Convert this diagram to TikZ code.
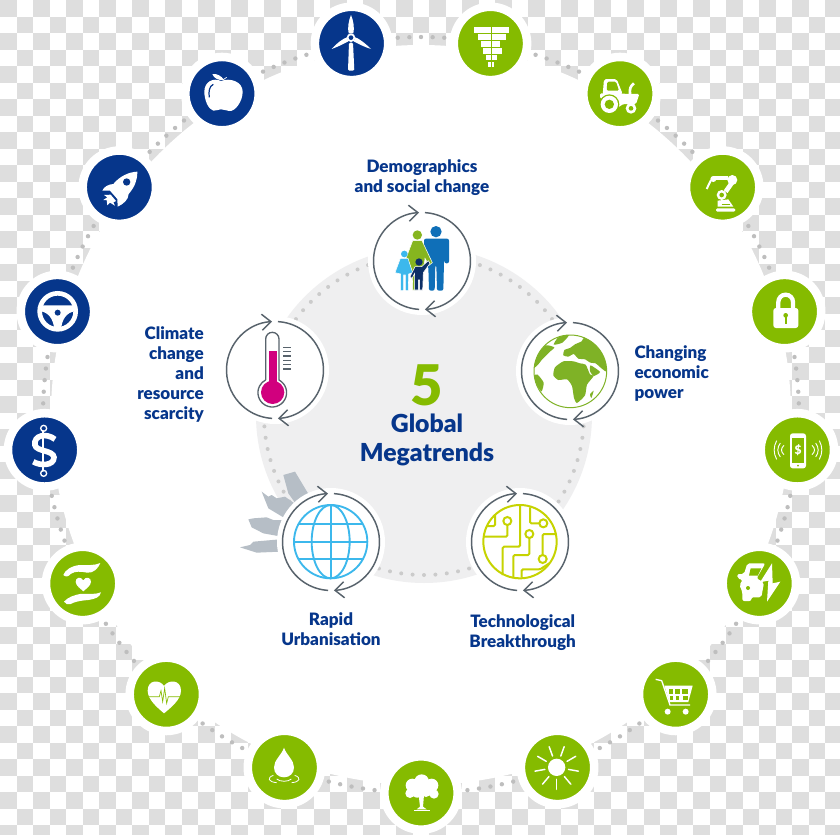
\documentclass[tikz,border=0pt]{standalone}
\usepackage{fontspec}
\setmainfont{Lato}[BoldFont={Lato Black}]
\usepackage{tikz}
\usetikzlibrary{positioning,arrows.meta}
\definecolor{navyblue}{HTML}{06368B}
\definecolor{leafgreen}{HTML}{85BB00}
\definecolor{checkgrey}{HTML}{DEDEDE}
\definecolor{dotgrey}{HTML}{BEBEBE}
\definecolor{coregrey}{HTML}{EFEFF0}
\definecolor{ringgrey}{HTML}{58636C}
\definecolor{skygrey}{HTML}{B6BEC6}
\definecolor{manblue}{HTML}{0F6FB8}
\definecolor{womangreen}{HTML}{86B51F}
\definecolor{girlblue}{HTML}{3CB8EC}
\definecolor{boynavy}{HTML}{0C2F66}
\definecolor{thermopink}{HTML}{D1007E}
\definecolor{earthgreen}{HTML}{7FB226}
\definecolor{circuitlime}{HTML}{C6D300}
\begin{document}
\begin{tikzpicture}[x=0.75pt, y=-0.75pt,
icon/.style ={circle, draw=white, line width=6.4pt, minimum size=55pt, inner sep=0pt},
trend/.style ={circle, fill=white, minimum size=81pt, inner sep=0pt},
trendtext/.style ={text=navyblue, font=\bfseries\fontsize{12.8}{15}\selectfont, inner sep=0pt},
ringarc/.style ={draw=ringgrey, line width=1.1pt, -{Straight Barb[length=6.8pt,width=12pt]}},
nwcrop/.style ={x=0.25pt, y=-0.25pt},
necrop/.style ={shift={(420,0)}, x=0.25pt, y=-0.25pt},
topcrop/.style ={shift={(220,140)}, x=0.25pt, y=-0.25pt},
lowcrop/.style ={shift={(220,440)}, x=0.25pt, y=-0.25pt},
swcrop/.style ={shift={(0,400)}, x=0.25pt, y=-0.25pt},
botcrop/.style ={shift={(220,680)}, x=0.25pt, y=-0.25pt},
secrop/.style ={shift={(620,400)}, x=0.25pt, y=-0.25pt},
lockcrop/.style ={shift={(745,272)}, x=0.25pt, y=-0.25pt},
wheelcrop/.style ={shift={(17,272)}, x=0.25pt, y=-0.25pt},
earthcrop/.style ={shift={(525,326)}, x=0.25pt, y=-0.25pt},
trendring/.pic ={
  \draw[ringarc] (93.5:48.5) arc [start angle=93.5, end angle=266.5, radius=48.5];
  \draw[ringarc] (273.5:48.5) arc [start angle=273.5, end angle=446.5, radius=48.5];
}]
\useasboundingbox (0,0) rectangle (840,835);
\fill[white] (0,0) rectangle (840,835);
\foreach \i in {0,...,50}
  \foreach \j in {0,...,50} {
    \pgfmathparse{int(mod(\i+\j,2))}
    \ifnum\pgfmathresult=0
      \fill[checkgrey] ({\i*16.5},{\j*16.5}) rectangle ({\i*16.5+16.5},{\j*16.5+16.5});
    \fi
  }
\clip (0,0) rectangle (840,835);

\coordinate (hub) at (421,415);
\node (backdisc) [circle, fill=white, minimum size=555pt, inner sep=0pt] at (hub) {};
\foreach \k in {0,...,203}
  \fill[dotgrey] ([shift={(\k*1.76471+90:378)}]hub) circle [radius=2.2];

\foreach \name/\k/\col in {tree/0/leafgreen, sun/1/leafgreen, cart/2/leafgreen, evcar/3/leafgreen,
    phone/4/leafgreen, lock/5/leafgreen, robot/6/leafgreen, tractor/7/leafgreen, funnel/8/leafgreen,
    wind/9/navyblue, apple/10/navyblue, rocket/11/navyblue, steering/12/navyblue, dollar/13/navyblue,
    hands/14/leafgreen, pulse/15/leafgreen, drop/16/leafgreen}
  \node (\name) [icon, fill=\col] at ([shift={(90-21.17647*\k:378)}]hub) {};

\node (core) [circle, fill=coregrey, minimum size=252pt, inner sep=0pt] at (424,415) {};
\foreach \k in {0,...,87}
  \fill[dotgrey!80] ([shift={(\k*4.0909:160)}]core) circle [radius=2];

\begin{scope}[lowcrop]
\fill[skygrey] (190,105) -- (225,95) -- (270,170) -- (230,195) -- (205,160) -- cycle;
\fill[skygrey] (125,155) -- (145,170) -- (155,165) -- (170,175) -- (195,170) -- (230,195) -- (195,235) -- (145,205) -- cycle;
\fill[skygrey] (85,238) -- (100,235) -- (140,232) -- (160,240) -- (195,240) -- (185,290) -- (130,280) -- (95,262) -- cycle;
\fill[skygrey] (60,322) -- (90,315) -- (100,305) -- (180,298) -- (180,335) -- (110,338) -- cycle;
\end{scope}

\node (demog) [trend] at (422,261) {};
\node (thermo) [trend] at (275,370) {};
\node (earth) [trend] at (570,371) {};
\node (city) [trend] at (331,542) {};
\node (tech) [trend] at (520,542) {};
\foreach \name in {demog, thermo, earth, city, tech}
  \pic at (\name) {trendring};

\node (demogtext) [trendtext, align=center, above = 8pt of demog] {Demographics\\and social change};
\node (thermotext) [trendtext, align=right, left = 12.5pt of thermo, yshift=-3.5pt] {Climate\\change\\and\\resource\\scarcity};
\node (earthtext) [trendtext, align=left, right = 7.5pt of earth, yshift=-2pt] {Changing\\economic\\power};
\node (citytext) [trendtext, align=center, below = 12pt of city] {Rapid\\Urbanisation};
\node (techtext) [trendtext, align=center, below = 13.5pt of tech, xshift=2pt] {Technological\\Breakthrough};

\node (five) [text=leafgreen, font=\bfseries\fontsize{42}{42}\selectfont, inner sep=0pt] at (427,385) {5};
\node (title) [text=navyblue, align=center, font=\bfseries\fontsize{18.6}{21.75}\selectfont, inner sep=0pt] at (427,440) {Global\\Megatrends};

\begin{scope}[topcrop]
\fill[manblue] (648,275) circle [radius=17];
\fill[manblue, rounded corners=1.5pt] (612,296) -- (687,296) -- (687,370) -- (673,370) -- (673,320) -- (670,452) -- (651,452) -- (649,375) -- (646,375) -- (644,452) -- (627,452) -- (625,380) -- (612,340) -- cycle;
\fill[womangreen] (592,285) circle [radius=14];
\fill[womangreen, draw=white, line width=0.4pt] (578,302) -- (606,302) -- (637,368) -- (627,376) -- (615,355) -- (610,400) -- (590,400) -- (590,450) -- (578,450) -- (577,400) -- (560,385) -- (558,355) -- cycle;
\fill[girlblue] (553,342) circle [radius=10];
\fill[girlblue, draw=white, line width=0.4pt] (541,355) -- (564,355) -- (578,398) -- (566,402) -- (565,452) -- (556,452) -- (556,405) -- (551,405) -- (551,452) -- (542,452) -- (542,402) -- (525,398) -- cycle;
\fill[boynavy] (597,366) circle [radius=11];
\fill[boynavy, draw=white, line width=0.4pt] (585,380) -- (605,380) -- (625,362) -- (630,370) -- (610,398) -- (608,450) -- (599,450) -- (599,420) -- (595,420) -- (595,450) -- (584,450) -- (584,400) -- (576,415) -- (570,410) -- cycle;

\draw[ringgrey, line width=1pt] (137,720) -- (137,597) arc [start angle=180, end angle=360, radius=20] -- (177,720) arc [start angle=-62, end angle=242, radius=43];
\fill[thermopink] (146,632) rectangle (170,730);
\fill[thermopink] (158,757) circle [radius=35];
\foreach \t in {622,635,648,661,674,687}
  \draw[ringgrey, line width=0.85pt] (190,\t) -- (212,\t);
\end{scope}

\begin{scope}[earthcrop, earthgreen]
\begin{scope}
\clip (136,136) circle [radius=109];
\fill plot [smooth cycle, tension=0.35] coordinates {(115,88) (118,72) (135,66) (150,55) (170,46) (178,34) (205,50) (240,90) (250,135) (240,135) (226,124) (212,112) (196,110) (180,100) (160,98) (146,84) (130,92)};
\fill plot [smooth cycle, tension=0.35] coordinates {(85,148) (90,124) (115,106) (145,106) (165,112) (182,116) (195,145) (206,150) (186,176) (180,208) (156,231) (147,216) (141,180) (126,160) (100,162)};
\fill plot [smooth cycle, tension=0.35] coordinates {(197,118) (225,138) (206,150) (195,135)};
\fill plot [smooth cycle, tension=0.35] coordinates {(206,194) (199,216) (195,205)};
\fill plot [smooth cycle, tension=0.35] coordinates {(27,125) (38,85) (62,58) (88,64) (76,76) (62,90) (50,102) (40,115)};
\fill plot [smooth cycle, tension=0.35] coordinates {(26,150) (38,146) (56,170) (50,196) (38,182)};
\fill plot [smooth cycle, tension=0.35] coordinates {(86,56) (100,34) (132,27) (112,50)};
\end{scope}
\draw[line width=0.75pt] (136,136) circle [radius=109];
\end{scope}

\begin{scope}[lowcrop]
\begin{scope}
\clip (332,305) circle [radius=110];
\foreach \t in {253,305,358}
  \draw[girlblue, line width=1.4pt] (222,\t) -- (442,\t);
\end{scope}
\draw[girlblue, line width=1.4pt] (332,305) circle [radius=110];
\draw[girlblue, line width=1.4pt] (332,195) -- (332,415);
\draw[girlblue, line width=1.4pt] (332,305) ellipse [x radius=57, y radius=110];
\begin{scope}[circuitlime, line width=1.5pt, rounded corners=1pt]
\draw (900,305) circle [radius=110];
\draw (900,195) -- (900,320) -- (848,320) -- (848,405);
\draw (862,255) -- (862,290) -- (792,290);
\draw (800,258) -- (825,258) -- (825,225);
\draw (958,250) -- (930,250) -- (930,202);
\draw (928,294) -- (928,345) -- (880,345) -- (880,412);
\draw (968,345) -- (968,282) -- (1008,282);
\draw (905,412) -- (905,388) -- (960,388) -- (988,370);
\draw (862,243) circle [radius=12];
\draw (970,250) circle [radius=12];
\draw (928,282) circle [radius=12];
\draw (968,357) circle [radius=12];
\end{scope}
\end{scope}

\begin{scope}[nwcrop, white]
\fill (1053,45) .. controls (1060,60) and (1064,85) .. (1060,100) -- (1046,100) .. controls (1042,85) and (1046,60) .. cycle;
\fill (995,147) .. controls (1010,130) and (1030,115) .. (1041,112) -- (1045,124) .. controls (1030,132) and (1010,142) .. cycle;
\fill (1113,147) .. controls (1096,130) and (1076,115) .. (1066,112) -- (1061,124) .. controls (1076,132) and (1096,142) .. cycle;
\fill[rounded corners=1pt] (1047,128) -- (1059,128) -- (1063,212) -- (1044,212) -- cycle;
\fill (1053,113) circle [radius=13];
\fill[navyblue] (1053,113) circle [radius=7];

\fill (663,243) .. controls (690,232) and (728,245) .. (728,275) .. controls (728,305) and (705,335) .. (688,333) .. controls (677,332) and (672,328) .. (663,328) .. controls (655,328) and (648,333) .. (640,332) .. controls (625,328) and (613,300) .. (613,275) .. controls (613,245) and (640,232) .. cycle;
\fill (637,222) .. controls (650,220) and (665,228) .. (672,240) .. controls (655,242) and (642,235) .. cycle;
\draw[line width=0.5pt] (668,240) -- (680,232);
\draw[navyblue, line width=0.9pt] (640,253) .. controls (628,258) and (625,275) .. (628,292);

\fill (412,515) .. controls (385,516) and (358,530) .. (340,552) .. controls (325,553) and (312,560) .. (307,572) -- (330,572) -- (352,597) -- (353,620) .. controls (370,612) and (385,600) .. (386,582) .. controls (405,560) and (412,540) .. cycle;
\fill[navyblue] (380,546) circle [radius=11];
\fill (332,584) -- (348,603) -- (340,607) -- (345,617) -- (330,608) -- (322,616) -- (320,600) -- (310,600) -- (322,592) -- (312,585) -- cycle;
\end{scope}

\begin{scope}[necrop, white]
\foreach \t/\b/\l/\r in {82/100/163/267, 103/120/175/258, 124/140/182/241, 145/162/190/247, 165/181/197/232, 186/202/204/223}
  \fill (\l,\t) rectangle (\r,\b);
\draw[leafgreen, line width=0.5pt] (214,80) -- (214,204);

\fill[rounded corners=1.5pt] (548,285) -- (552,237) -- (590,237) -- (608,282) -- cycle;
\fill[leafgreen, rounded corners=1pt] (562,245) -- (588,245) -- (597,272) -- (560,272) -- cycle;
\draw[line width=2pt] (630,284) .. controls (628,265) and (632,258) .. (642,250);
\fill[rounded corners=1pt] (540,280) -- (658,282) -- (648,312) -- (610,312) -- (595,322) -- (590,300) -- (540,295) -- cycle;
\fill[leafgreen] (568,313) circle [radius=30];
\fill (568,313) circle [radius=26];
\fill[leafgreen] (568,313) circle [radius=14];
\fill (633,325) circle [radius=16];
\fill[leafgreen] (633,325) circle [radius=7];

\fill[rounded corners=1pt] (888,625) rectangle (946,635);
\fill (893,620) -- (893,602) -- (925,598) -- (940,620) -- cycle;
\draw[leafgreen, line width=0.6pt] (905,612) -- (930,612);
\fill (905,585) circle [radius=15];
\fill[leafgreen] (905,585) circle [radius=7];
\draw[line width=3.5pt] (917,575) -- (936,548);
\fill (937,540) circle [radius=15];
\draw[line width=3pt] (925,535) -- (880,535);
\fill (880,537) circle [radius=9];
\draw[line width=1.5pt] (873,540) -- (860,567);
\end{scope}

\begin{scope}[lockcrop, white]
\fill[rounded corners=2pt] (85,108) rectangle (160,168);
\draw[line width=3.2pt] (100,110) -- (100,90) arc [start angle=180, end angle=360, radius=22] -- (144,110);
\fill[leafgreen] (122,130) circle [radius=7];
\fill[leafgreen] (119.5,130) rectangle (124.5,155);
\end{scope}

\begin{scope}[wheelcrop, white]
\draw[line width=3.5pt] (122,118) circle [radius=54];
\fill (72,100) -- (172,100) -- (172,118) .. controls (150,122) and (134,140) .. (132,175) -- (112,175) .. controls (110,140) and (94,122) .. (72,118) -- cycle;
\fill[navyblue] (122,122) circle [radius=9];
\end{scope}

\begin{scope}[swcrop, white]
\draw[line width=1.5pt] (130,85) -- (130,220);
\draw[line width=4.2pt] (165,118) .. controls (140,98) and (100,105) .. (105,135) .. controls (108,155) and (160,150) .. (162,172) .. controls (162,198) and (120,198) .. (100,185);
\fill[navyblue] (131,85) circle [radius=6];
\draw[line width=1pt] (131,85) circle [radius=9];
\fill[navyblue] (131,220) circle [radius=6];
\draw[line width=1pt] (131,220) circle [radius=9];

\fill (301,489) .. controls (285,497) and (260,495) .. (240,495) .. controls (215,497) and (195,510) .. (190,525) .. controls (197,532) and (205,530) .. (212,522) .. controls (225,512) and (245,515) .. (262,518) .. controls (280,520) and (295,505) .. cycle;
\fill (192,605) .. controls (205,590) and (225,585) .. (240,582) .. controls (260,580) and (285,585) .. (303,577) .. controls (300,592) and (285,597) .. (265,600) .. controls (240,602) and (225,605) .. (212,612) .. controls (205,615) and (195,612) .. cycle;
\fill (250,541) .. controls (243,528) and (226,532) .. (227,546) .. controls (228,558) and (242,566) .. (250,574) .. controls (258,566) and (272,558) .. (273,546) .. controls (274,532) and (257,528) .. cycle;

\fill (492,858) .. controls (480,838) and (443,838) .. (443,872) .. controls (443,900) and (475,925) .. (492,940) .. controls (510,925) and (543,900) .. (543,872) .. controls (543,838) and (505,838) .. cycle;
\draw[leafgreen, line width=0.5pt] (447,890) -- (478,890) -- (483,872) -- (488,905) -- (494,865) -- (500,910) -- (505,890) -- (540,890);
\end{scope}

\begin{scope}[botcrop, white]
\fill (192,203) .. controls (185,225) and (162,240) .. (162,262) .. controls (162,280) and (175,292) .. (192,292) .. controls (209,292) and (222,280) .. (222,262) .. controls (222,240) and (199,225) .. cycle;
\draw[line width=0.6pt] (160,286) .. controls (140,293) and (145,306) .. (170,308);
\draw[line width=0.6pt] (224,286) .. controls (245,293) and (240,306) .. (215,308);
\draw[line width=0.6pt] (170,297) .. controls (180,306) and (205,306) .. (214,297);

\foreach \x/\y/\r in {605/305/22, 577/316/20, 635/316/20, 570/340/14, 642/342/14, 592/335/18, 618/335/16}
  \fill (\x,\y) circle [radius=\r];
\fill (596,345) -- (612,345) -- (609,380) -- (620,388) -- (590,388) -- (600,380) -- cycle;
\draw[line width=0.6pt] (583,390) -- (630,390);

\fill (1010,262) circle [radius=26];
\foreach \a in {90,130,170,210,250,290,330,370,410}
  \draw[line width=1.1pt, line cap=round] ([shift={(\a:36)}]1010,262) -- ([shift={(\a:66)}]1010,262);
\end{scope}

\begin{scope}[secrop, white]
\fill[rounded corners=2pt] (510,100) rectangle (558,205);
\fill[leafgreen] (515,115) rectangle (553,190);
\fill[leafgreen] (534,197) circle [radius=3];
\node (phonesign) [white, font=\bfseries\fontsize{9}{9}\selectfont, inner sep=0pt] at (534,152) {\$};
\foreach \d/\h in {0/14,11/21,22/28} {
  \draw[line width=0.7pt] ({492-\d},{150-\h}) .. controls ({482-\d},{150-\h/3}) and ({482-\d},{150+\h/3}) .. ({492-\d},{150+\h});
  \draw[line width=0.7pt] ({576+\d},{150-\h}) .. controls ({586+\d},{150-\h/3}) and ({586+\d},{150+\h/3}) .. ({576+\d},{150+\h});
}

\fill[rounded corners=1.5pt] (382,490) -- (436,490) -- (410,535) -- (432,548) -- (424,592) -- (394,592) -- (394,603) -- (367,603) -- (367,575) -- (358,555) -- (368,540) -- (352,535) -- (352,522) -- (372,522) -- cycle;
\fill[leafgreen] (392,505) -- (424,505) -- (413,527) -- (387,527) -- cycle;
\fill[leafgreen] (384,564) circle [radius=6];
\fill (456,490) -- (420,547) -- (445,542) -- (441,605) -- (481,545) -- (458,550) -- cycle;

\draw[line width=1pt] (107,838) -- (125,842) -- (150,915) -- (210,915);
\fill (133,857) -- (218,857) -- (205,906) -- (148,906) -- cycle;
\foreach \l/\r in {146/160, 165/180, 185/205} {
  \fill[leafgreen] (\l,868) rectangle (\r,882);
  \fill[leafgreen] (\l+3,887) rectangle (\r-2,899);
}
\fill (143,935) circle [radius=9];
\fill (197,935) circle [radius=9];
\end{scope}
\end{tikzpicture}
\end{document}
